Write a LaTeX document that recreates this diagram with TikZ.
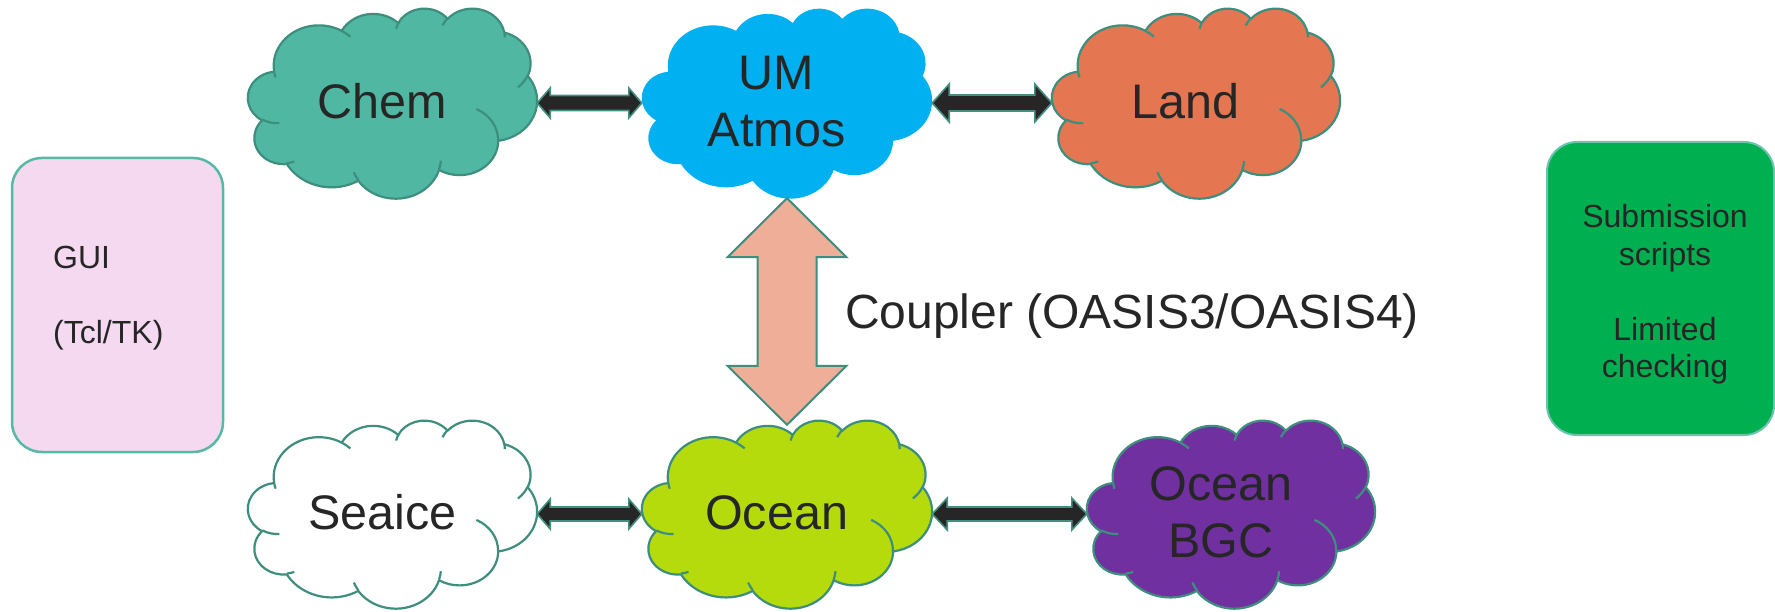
\documentclass[tikz,border=0pt]{standalone}
\usepackage{fontspec}
\setmainfont{Liberation Sans}
\usetikzlibrary{calc}
\definecolor{txt}{HTML}{262626}
\definecolor{cloudline}{HTML}{3E8E7E}
\definecolor{chemfill}{HTML}{50B8A2}
\definecolor{umfill}{HTML}{00B0F0}
\definecolor{landfill}{HTML}{E57652}
\definecolor{oceanfill}{HTML}{B6DB0C}
\definecolor{bgcfill}{HTML}{7030A0}
\definecolor{arrowfill}{HTML}{262626}
\definecolor{arrowline}{HTML}{448F7F}
\definecolor{couplerfill}{HTML}{EEAE97}
\definecolor{guifill}{HTML}{F4D9F0}
\definecolor{guiline}{HTML}{56B9A3}
\definecolor{subfill}{HTML}{00AF50}
\definecolor{subline}{HTML}{6CC3AE}

% PowerPoint-style cloud: #1 name, #2 x0, #3 y0, #4 width, #5 height, #6 fill, #7 outline, #8 text
\newcommand\cloudnode[8]{%
  \begin{scope}[shift={(#2,#3)}, xscale=#4/43.2, yscale=#5/43.2]
    \path[fill=#6, draw=#7, cloudstroke] (3.9,14.37)
      [carc={6.753}{9.19}{-190.4875}{123.7805}]
      [carc={5.333}{7.267}{-144.1024}{89.9452}]
      [carc={4.365}{5.945}{-145.8079}{99.7230}]
      [carc={4.857}{6.595}{-130.9861}{117.2417}]
      [carc={5.333}{7.273}{-78.7089}{109.0269}]
      [carc={6.775}{9.22}{-46.2673}{130.2690}]
      [carc={5.785}{7.867}{0.6250}{114.0333}]
      [carc={6.752}{9.215}{22.4516}{115.1726}]
      [carc={7.72}{10.543}{66.2426}{75.7110}]
      [carc={4.36}{5.918}{-274.9421}{146.7356}]
      [carc={4.345}{5.945}{-246.8285}{152.5189}] -- cycle;
    \path[draw=#7, cloudstroke]
      (4.693,26.177) [carc={4.345}{5.945}{86.7420}{26.4295}]
      (6.928,34.899) [carc={4.36}{5.918}{73.6105}{11.4475}]
      (16.478,39.09) [carc={6.752}{9.215}{137.6242}{14.0811}]
      (28.827,34.751) [carc={6.752}{9.215}{6.4533}{15.9984}]
      (34.129,22.954) [carc={5.785}{7.867}{-70.2924}{70.9174}]
      (41.798,15.354) [carc={5.333}{7.273}{30.3180}{27.7515}]
      (38.324,5.426) [carc={4.857}{6.595}{-13.7443}{14.8589}]
      (29.078,3.952) [carc={4.857}{6.595}{-149.1815}{18.1954}]
      (22.141,4.72) [carc={4.365}{5.945}{-163.4943}{17.6864}]
      (14.0,5.192) [carc={6.753}{9.19}{-66.7070}{12.3194}]
      (4.127,15.789) [carc={6.753}{9.19}{157.6544}{11.8582}];
  \end{scope}
  \node[minimum width=#4, minimum height=#5, inner sep=0pt] (#1) at (#2+#4/2,#3+#5/2) {};
  \node[cloudtext] (#1-t) at (#2+0.4644*#4,#3+0.4768*#5+3) {#8};
}

% horizontal block double arrow: #1 style, #2 from, #3 to, #4 head length, #5 head half height, #6 shaft half height
\newcommand\hblock[6]{%
  \draw[#1] (#2) -- ++(#4,-#5) -- ++(0,#5-#6) -- ($(#3)+(-#4,-#6)$) -- ++(0,#6-#5) -- (#3)
    -- ++(-#4,#5) -- ++(0,#6-#5) -- ($(#2)+(#4,#6)$) -- ++(0,#5-#6) -- cycle;}

\begin{document}
\begin{tikzpicture}[x=1pt, y=1pt, yscale=-1,
  declare function={cpar(\cpv,\cpa,\cpb)=\cpv+Mod(atan2(\cpa*sin(\cpv),\cpb*cos(\cpv))-\cpv+180,360)-180;},
  carc/.style n args={4}{insert path={arc[x radius=#1, y radius=#2, start angle={cpar(#3,#1,#2)}, end angle={cpar(#3+#4,#1,#2)}]}},
  cloudstroke/.style={line width=2.2pt, line join=round},
  cloudtext/.style={text=txt, font=\fontsize{48.5}{57}\selectfont, align=center, inner sep=0pt},
  smalltext/.style={text=txt, font=\fontsize{32}{37.5}\selectfont, inner sep=0pt},
  linkarrow/.style={fill=arrowfill, draw=arrowline, line width=1.6pt, line join=miter},
  couplerarrow/.style={fill=couplerfill, draw=cloudline, line width=2pt, line join=miter},
  roundbox/.style={rounded corners=30pt, inner sep=0pt}
]
\fill[white] (0,0) rectangle (1775,612);
\useasboundingbox (0,0) rectangle (1775,612);

% side boxes
\node[roundbox, draw=guiline, fill=guifill, line width=2.5pt, minimum width=211, minimum height=294] (gui) at (117.5,305) {};
\node[smalltext, align=left, anchor=west] (guitext) at (53,298) {GUI\\[37.5pt](Tcl/TK)};
\node[roundbox, draw=subline, fill=subfill, line width=2pt, minimum width=227, minimum height=293] (sub) at (1660.5,288.5) {};
\node[smalltext, align=center] (subtext) at (1665,294.5) {Submission\\scripts\\[37.5pt]Limited\\checking};

% clouds
\cloudnode{chem}{248}{8}{289}{190}{chemfill}{cloudline}{Chem}
\cloudnode{um}{642}{8}{290}{190}{umfill}{none}{UM\\Atmos}
\cloudnode{land}{1052}{8}{288}{190}{landfill}{cloudline}{Land}
\cloudnode{seaice}{248}{420}{289}{188}{white}{cloudline}{Seaice}
\cloudnode{ocean}{642}{420}{290}{188}{oceanfill}{cloudline}{Ocean}
\cloudnode{bgc}{1087}{420}{288}{188}{bgcfill}{cloudline}{Ocean\\BGC}

% coupling arrows
\hblock{linkarrow}{chem.east}{um.west}{13}{15}{7.5}
\hblock{linkarrow}{um.east}{land.west}{17}{19}{8}
\hblock{linkarrow}{seaice.east}{ocean.west}{13}{15}{7}
\hblock{linkarrow}{ocean.east}{bgc.west}{15}{16}{7}

% coupler
\coordinate (cbot) at ($(ocean.north)+(0,5)$);
\draw[couplerarrow] (um.south) -- ++(59.5,59) -- ++(-30,0) -- ($(cbot)+(29.5,-59)$) -- ++(30,0) -- (cbot)
  -- ++(-59.5,-59) -- ++(30,0) -- ($(um.south)+(-29.5,59)$) -- ++(-30,0) -- cycle;
\node[text=txt, font=\fontsize{48}{57}\selectfont, inner sep=0pt, anchor=base west] (coupler) at (845,329) {Coupler (OASIS3/OASIS4)};
\end{tikzpicture}
\end{document}
